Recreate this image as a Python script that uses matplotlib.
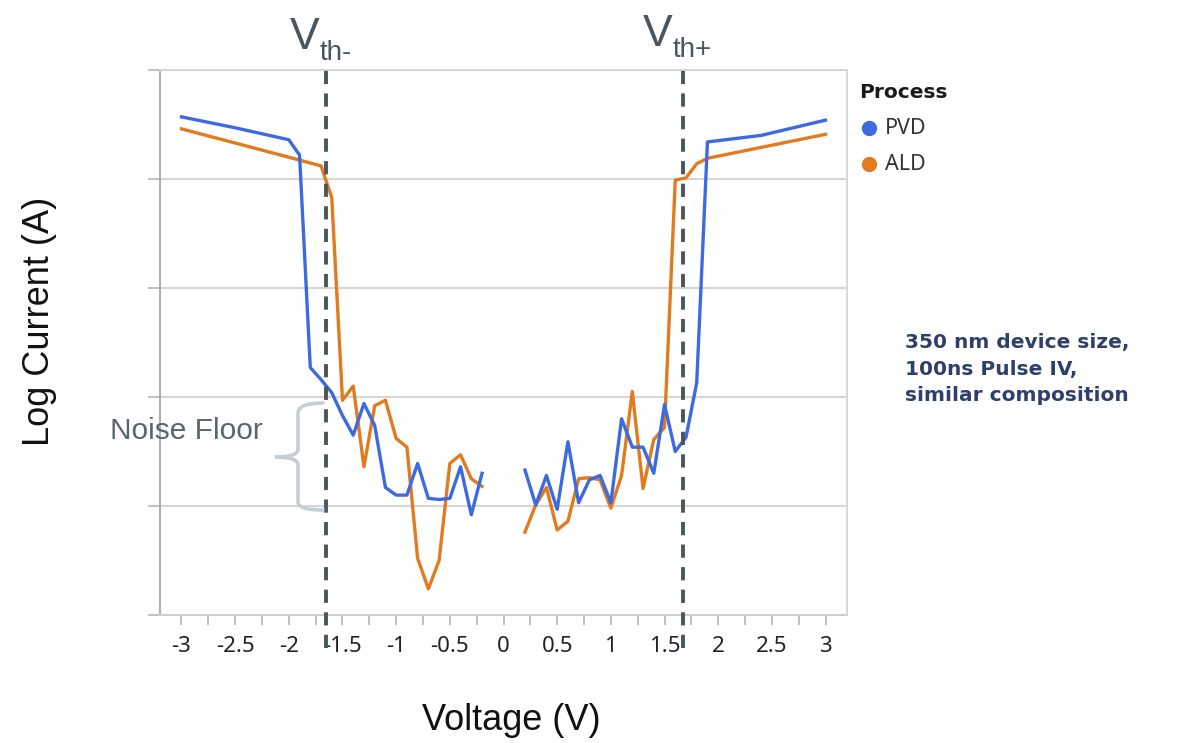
import numpy as np
import matplotlib.pyplot as plt
from matplotlib.path import Path
from matplotlib.patches import PathPatch
from matplotlib.lines import Line2D

# data (y = log current, arbitrary decades, 0..5)
pvd_neg_v = [-3.0, -2.5, -2.0, -1.9, -1.8, -1.7, -1.6, -1.5, -1.4, -1.3, -1.2,
             -1.1, -1.0, -0.9, -0.8, -0.7, -0.6, -0.5, -0.4, -0.3, -0.2]
pvd_neg_i = [4.57, 4.47, 4.36, 4.22, 2.27, 2.16, 2.04, 1.83, 1.65, 1.94, 1.74,
             1.17, 1.10, 1.10, 1.39, 1.07, 1.06, 1.07, 1.36, 0.92, 1.30]
pvd_pos_v = [0.2, 0.3, 0.4, 0.5, 0.6, 0.7, 0.8, 0.9, 1.0, 1.1, 1.2, 1.3, 1.4,
             1.5, 1.6, 1.7, 1.8, 1.9, 2.4, 3.0]
pvd_pos_i = [1.33, 1.01, 1.28, 0.97, 1.59, 1.03, 1.24, 1.28, 1.03, 1.80, 1.54,
             1.54, 1.30, 1.93, 1.50, 1.63, 2.13, 4.34, 4.40, 4.54]

ald_neg_v = [-3.0, -2.5, -2.0, -1.7, -1.6, -1.5, -1.4, -1.3, -1.2, -1.1, -1.0,
             -0.9, -0.8, -0.7, -0.6, -0.5, -0.4, -0.3, -0.2]
ald_neg_i = [4.46, 4.33, 4.20, 4.12, 3.83, 1.97, 2.10, 1.36, 1.92, 1.97, 1.62,
             1.54, 0.52, 0.24, 0.50, 1.39, 1.47, 1.25, 1.18]
ald_pos_v = [0.2, 0.3, 0.4, 0.5, 0.6, 0.7, 0.8, 0.9, 1.0, 1.1, 1.2, 1.3, 1.4,
             1.5, 1.6, 1.7, 1.8, 1.9, 2.4, 3.0]
ald_pos_i = [0.76, 1.01, 1.17, 0.78, 0.86, 1.25, 1.26, 1.24, 0.98, 1.28, 2.05,
             1.16, 1.61, 1.72, 3.99, 4.01, 4.14, 4.19, 4.29, 4.41]

vth_neg = -1.65
vth_pos = 1.67

BLUE = '#3d6ae0'
ORANGE = '#e27b1f'
SLATE = '#4b565c'
W, H = 1177, 743


def fx(px):
    return px / W


def fy(py):
    return 1 - py / H


fig = plt.figure(figsize=(W / 100, H / 100), dpi=100)
ax = fig.add_axes([fx(160), fy(615), fx(847) - fx(160), fy(70) - fy(615)])

# curves
ax.plot(pvd_neg_v, pvd_neg_i, color=BLUE, lw=2.4, solid_joinstyle='round', zorder=3)
ax.plot(pvd_pos_v, pvd_pos_i, color=BLUE, lw=2.4, solid_joinstyle='round', zorder=3)
ax.plot(ald_neg_v, ald_neg_i, color=ORANGE, lw=2.4, solid_joinstyle='round', zorder=2)
ax.plot(ald_pos_v, ald_pos_i, color=ORANGE, lw=2.4, solid_joinstyle='round', zorder=2)

# threshold lines, run past the axes
for v in (vth_neg, vth_pos):
    ax.plot([v, v], [-0.30, 5.02], color=SLATE, lw=2.8,
            linestyle=(0, (3.4, 2.4)), clip_on=False, zorder=4)

ax.set_xlim(-3.2, 3.2)
ax.set_ylim(0, 5)
ax.set_xticks(np.arange(-3, 3.01, 0.5))
ax.set_xticklabels(['-3', '-2.5', '-2', '-1.5', '-1', '-0.5', '0', '0.5', '1',
                    '1.5', '2', '2.5', '3'])
ax.set_xticks(np.arange(-3, 3.01, 0.25), minor=True)
ax.set_yticks([0, 1, 2, 3, 4, 5])
ax.set_yticklabels([])
ax.tick_params(axis='x', which='both', length=7, color='#b5b5b5', width=1.2,
               labelsize=16, labelcolor='#222222', pad=8)
ax.tick_params(axis='y', length=9, color='#b5b5b5', width=1.2)
for lab in ax.get_xticklabels():
    lab.set_family('Noto Sans')
ax.grid(axis='y', color='#d6d6d6', lw=1.5)
ax.set_axisbelow(True)
for side, col in (('left', '#b0b0b0'), ('bottom', '#cfcfcf'),
                  ('top', '#d6d6d6'), ('right', '#d9d9d9')):
    ax.spines[side].set_color(col)
    ax.spines[side].set_linewidth(1.5)

# axis titles
fig.text(fx(511), fy(721), 'Voltage (V)', fontsize=26, family='Liberation Sans',
         ha='center', va='center', color='#111111')
fig.text(fx(40), fy(321), 'Log Current (A)', fontsize=26, family='Liberation Sans',
         ha='center', va='center', rotation=90, color='#111111')

# V_th labels
fig.text(fx(290), fy(49), 'V', fontsize=32, family='Liberation Sans',
         color=SLATE, va='baseline', ha='left')
fig.text(fx(320), fy(60), 'th-', fontsize=20, family='Liberation Sans',
         color=SLATE, va='baseline', ha='left')
fig.text(fx(643), fy(46), 'V', fontsize=32, family='Liberation Sans',
         color=SLATE, va='baseline', ha='left')
fig.text(fx(673), fy(57), 'th+', fontsize=20, family='Liberation Sans',
         color=SLATE, va='baseline', ha='left')

# noise floor bracket
fig.text(fx(110), fy(431), 'Noise Floor', fontsize=21.5, family='Liberation Sans',
         color='#5a666b', va='center', ha='left')
pts = [(323, 403), (298, 403), (298, 413), (298, 449), (298, 457), (275, 457),
       (298, 457), (298, 465), (298, 502), (298, 510), (323, 510)]
codes = [Path.MOVETO, Path.CURVE3, Path.CURVE3, Path.LINETO, Path.CURVE3,
         Path.CURVE3, Path.CURVE3, Path.CURVE3, Path.LINETO, Path.CURVE3,
         Path.CURVE3]
brace = Path([(fx(x), fy(y)) for x, y in pts], codes)
fig.add_artist(PathPatch(brace, transform=fig.transFigure, fill=False,
                         edgecolor='#c3cfd6', lw=2.6, capstyle='round'))

# legend
fig.text(fx(859), fy(92), 'Process', fontsize=14.5, fontweight='bold',
         family='DejaVu Sans', va='center', ha='left', color='#1a1a1a')
for yy, name, col in ((128, 'PVD', BLUE), (164, 'ALD', ORANGE)):
    fig.add_artist(Line2D([fx(869)], [fy(yy)], marker='o', markersize=10,
                          color=col, transform=fig.transFigure))
    fig.text(fx(885), fy(yy), name, fontsize=15.5, family='Noto Sans',
             va='center', ha='left', color='#333333')

# note
fig.text(fx(905), fy(369), '350 nm device size,\n100ns Pulse IV,\nsimilar composition',
         fontsize=14.5, fontweight='bold', family='DejaVu Sans', color='#2f3f6b',
         va='center', ha='left', linespacing=1.5)

fig.savefig('out.png', dpi=100)
